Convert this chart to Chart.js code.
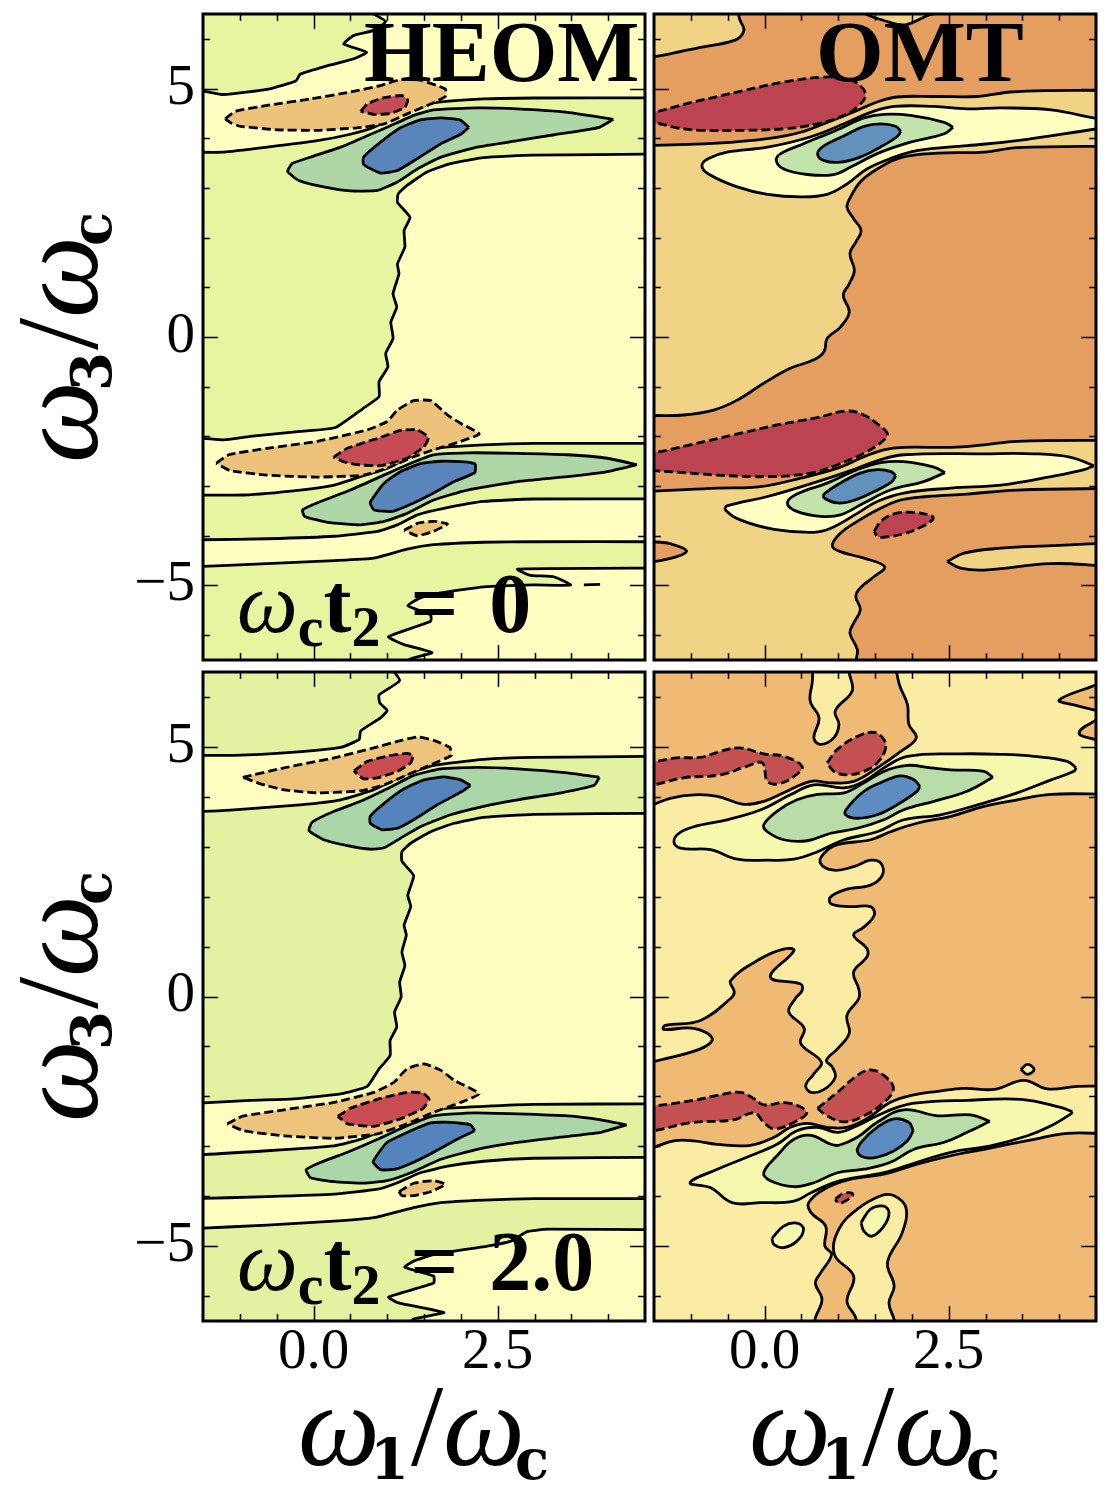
<!DOCTYPE html>
<html>
<head>
<meta charset="utf-8">
<title>HEOM OMT</title>
<script src="https://cdn.jsdelivr.net/npm/chart.js@4"></script>
<style>
html, body { margin: 0; padding: 0; background: #fff; }
body { width: 1110px; height: 1501px; position: relative; overflow: hidden; }
.box { position: absolute; }
.box canvas { display: block; }
.lab { position: absolute; white-space: nowrap; font-family: "Liberation Serif", serif; color: #000; line-height: 1; }
.lab i { font-style: italic; }
.lab b { font-weight: bold; }
.axis { font-size: 116px; }
.axis b { font-family: "DejaVu Serif", serif; font-size: 56px; position: relative; top: 14px; margin-left: -10px; }
.axis .sl { margin-left: 2px; }
.rot { transform: rotate(-90deg); transform-origin: 0 0; }
.name { font-size: 87px; font-weight: bold; }
.time { font-size: 84px; }
.time i { font-size: 86px; }
.time .s { font-weight: bold; font-size: 58px; position: relative; top: 14px; }
.time .eq { margin-left: 30px; letter-spacing: 31px; font-weight: bold; }
</style>
</head>
<body>
<div class="box" id="b0"><canvas id="c0"></canvas></div>
<div class="box" id="b1"><canvas id="c1"></canvas></div>
<div class="box" id="b2"><canvas id="c2"></canvas></div>
<div class="box" id="b3"><canvas id="c3"></canvas></div>

<div class="lab name" style="left:364px;top:8px">HEOM</div>
<div class="lab name" style="left:816px;top:8px">OMT</div>
<div class="lab time" style="left:237px;top:560px"><i>ω</i><span class="s">c</span><b>t</b><span class="s">2</span><span class="eq">=</span><b>0</b></div>
<div class="lab time" style="left:237px;top:1218px"><i>ω</i><span class="s">c</span><b>t</b><span class="s">2</span><span class="eq">=</span><b>2.0</b></div>
<div class="lab axis rot" style="left:0px;top:463px"><i>ω</i><b>3</b><span class="sl">/</span><i>ω</i><b>c</b></div>
<div class="lab axis rot" style="left:0px;top:1122px"><i>ω</i><b>3</b><span class="sl">/</span><i>ω</i><b>c</b></div>
<div class="lab axis" style="left:298px;top:1368px"><i>ω</i><b>1</b><span class="sl">/</span><i>ω</i><b>c</b></div>
<div class="lab axis" style="left:749px;top:1368px"><i>ω</i><b>1</b><span class="sl">/</span><i>ω</i><b>c</b></div>

<script>
// axis ticks
const xMajor = [0, 2.5];
const xMinor = [-1, -0.5, 0.5, 1, 1.5, 2, 3, 3.5, 4];
const yMajor = [-5, 0, 5];
const yMinor = [-6, -4, -3, -2, -1, 1, 2, 3, 4, 6];

// top left, HEOM t2 = 0
const a_limeCorner = [[0.73,7.6],[0.73,6.6],[0.98,6.35],[0.82,6.17],[0.55,6.07],[0.41,5.90],[0.72,5.73],[0.55,5.60],[0.19,5.46],[-0.18,5.29],[-0.24,5.15],[-0.61,4.99],[-1.22,4.88],[-1.49,4.95],[-1.7,4.97],[-2.5,4.97],[-2.5,7.6]];
const a_limeBig = [[-2.5,3.72],[-1.7,3.72],[-1.22,3.72],[-0.63,3.82],[0.05,3.95],[0.50,4.08],[0.82,4.22],[1.18,4.49],[1.63,4.71],[2.31,4.79],[2.99,4.81],[4.7,4.81],[5.5,4.81],[5.5,3.68],[4.7,3.68],[2.99,3.66],[2.31,3.61],[1.86,3.49],[1.54,3.32],[1.27,3.05],[1.15,2.88],[1.14,2.71],[1.31,2.41],[1.23,2.14],[1.24,1.81],[1.14,1.47],[1.16,1.27],[1.08,0.87],[1.13,0.60],[1.05,0.30],[1.08,-0.03],[0.98,-0.33],[1.01,-0.60],[0.89,-0.90],[0.89,-1.20],[0.68,-1.43],[0.30,-1.82],[-0.18,-1.90],[-0.86,-2.0],[-1.22,-2.07],[-1.49,-2.04],[-1.7,-2.04],[-2.5,-2.04]];
const a_greenUp = [[4.07,4.38],[3.45,4.52],[2.77,4.59],[2.22,4.61],[1.63,4.57],[1.36,4.46],[1.0,4.22],[0.73,4.05],[0.37,3.82],[0.0,3.64],[-0.29,3.49],[-0.35,3.33],[-0.20,3.15],[0.14,3.02],[0.50,2.94],[0.87,2.95],[1.14,3.12],[1.41,3.38],[1.73,3.62],[2.22,3.82],[2.77,3.95],[3.27,4.07],[3.88,4.22]];
const a_blueUp = [[2.11,4.22],[1.99,4.37],[1.73,4.41],[1.45,4.37],[1.18,4.21],[0.91,3.92],[0.68,3.62],[0.68,3.47],[0.91,3.30],[1.14,3.35],[1.41,3.59],[1.73,3.89],[2.0,4.08]];
const a_orangeUp = [[-1.20,4.39],[-1.06,4.54],[-0.63,4.66],[-0.04,4.79],[0.50,4.93],[0.91,5.06],[1.18,5.18],[1.45,5.17],[1.79,4.99],[1.79,4.84],[1.59,4.69],[1.27,4.49],[0.96,4.29],[0.59,4.21],[0.05,4.16],[-0.49,4.17],[-0.99,4.24],[-1.11,4.30]];
const a_redUp = [[0.64,4.54],[0.73,4.69],[0.93,4.81],[1.20,4.86],[1.28,4.77],[1.24,4.62],[1.05,4.50],[0.82,4.48]];
const a_limeBand = [[-2.5,-3.18],[-1.7,-3.18],[-0.95,-3.18],[-0.18,-3.08],[0.28,-2.98],[0.64,-2.81],[1.0,-2.64],[1.36,-2.37],[1.63,-2.24],[2.31,-2.17],[2.99,-2.14],[4.7,-2.14],[5.5,-2.14],[5.5,-3.26],[4.7,-3.26],[2.99,-3.26],[2.31,-3.31],[1.77,-3.45],[1.41,-3.58],[1.14,-3.78],[0.87,-3.91],[0.28,-4.01],[-0.63,-4.06],[-1.49,-4.08],[-1.7,-4.08],[-2.5,-4.08]];
const a_greenLow = [[4.39,-2.57],[3.99,-2.44],[3.45,-2.37],[2.77,-2.34],[2.09,-2.33],[1.63,-2.37],[1.32,-2.54],[0.91,-2.81],[0.50,-3.08],[0.05,-3.34],[-0.15,-3.48],[-0.12,-3.61],[0.19,-3.73],[0.64,-3.78],[0.96,-3.71],[1.27,-3.55],[1.63,-3.28],[2.09,-3.08],[2.77,-2.91],[3.45,-2.81],[3.99,-2.71]];
const a_blueLow = [[2.20,-2.55],[2.09,-2.52],[1.73,-2.50],[1.45,-2.55],[1.18,-2.71],[0.96,-2.94],[0.77,-3.33],[0.82,-3.48],[1.07,-3.51],[1.36,-3.34],[1.63,-3.14],[1.91,-2.91],[2.19,-2.73]];
const a_orangeLow = [[-1.32,-2.54],[-1.15,-2.37],[-0.63,-2.24],[0.05,-2.10],[0.73,-1.87],[1.0,-1.70],[1.14,-1.47],[1.36,-1.28],[1.59,-1.28],[1.82,-1.57],[2.0,-1.74],[2.25,-1.95],[2.0,-2.10],[1.63,-2.27],[1.36,-2.41],[1.0,-2.64],[0.68,-2.78],[0.05,-2.82],[-0.63,-2.78],[-1.13,-2.69]];
const a_redLow = [[0.27,-2.42],[0.46,-2.24],[0.87,-2.04],[1.18,-1.88],[1.41,-1.87],[1.56,-2.02],[1.50,-2.21],[1.27,-2.44],[0.91,-2.59],[0.59,-2.57],[0.41,-2.51]];
const a_orangeDot = [[1.23,-3.89],[1.41,-3.75],[1.63,-3.71],[1.82,-3.76],[1.63,-3.91],[1.41,-4.0]];
const a_limeBottom = [[-2.5,-4.63],[-1.7,-4.63],[-0.63,-4.56],[0.28,-4.50],[0.82,-4.45],[1.27,-4.27],[1.63,-4.18],[2.31,-4.13],[2.99,-4.12],[4.7,-4.12],[5.5,-4.12],[5.5,-4.65],[4.7,-4.65],[2.77,-4.67],[2.93,-4.79],[3.27,-4.83],[3.49,-4.99],[2.99,-4.99],[2.31,-5.03],[1.73,-5.15],[1.45,-5.25],[1.28,-5.41],[1.59,-5.59],[1.59,-5.72],[1.02,-6.03],[1.23,-6.19],[1.61,-6.35],[1.30,-6.49],[1.2,-6.7],[1.2,-7.6],[-2.5,-7.6]];
const a_dash = [[3.67,-4.99],[3.89,-4.98]];

// top right, OMT t2 = 0
const b_tanCorner = [[-0.36,7.6],[-0.36,6.7],[-0.35,6.47],[-0.33,6.37],[-0.28,6.17],[-0.39,5.98],[-0.87,5.83],[-1.28,5.70],[-1.50,5.64],[-1.7,5.62],[-2.5,5.62],[-2.5,7.6]];
const b_tanTop = [[1.3,7.6],[1.3,6.6],[1.42,6.47],[1.62,6.37],[1.80,6.29],[1.94,6.29],[2.21,6.47],[2.4,6.6],[2.4,7.6]];
const b_tanBig = [[-2.5,3.85],[-1.7,3.85],[-0.64,3.90],[0.04,3.99],[0.49,4.12],[0.85,4.32],[1.26,4.56],[1.53,4.73],[1.80,4.83],[2.30,4.84],[2.89,4.84],[3.34,4.93],[3.89,4.96],[4.7,4.96],[5.5,4.96],[5.5,3.84],[4.7,3.84],[3.43,3.81],[2.98,3.72],[2.35,3.70],[1.85,3.61],[1.53,3.38],[1.30,3.12],[1.17,2.82],[1.12,2.61],[1.21,2.38],[1.31,2.14],[1.24,1.91],[1.16,1.68],[1.22,1.34],[1.15,1.07],[1.07,0.84],[1.15,0.50],[1.03,0.20],[0.85,-0.03],[0.81,-0.29],[0.67,-0.46],[0.35,-0.63],[-0.01,-0.93],[-0.37,-1.27],[-0.69,-1.47],[-1.10,-1.57],[-1.50,-1.58],[-1.7,-1.58],[-2.5,-1.58]];
const b_paleUp = [[5.5,4.36],[4.7,4.36],[3.89,4.57],[3.21,4.61],[2.75,4.59],[2.30,4.64],[1.76,4.64],[1.44,4.52],[1.08,4.29],[0.63,4.03],[0.04,3.82],[-0.51,3.72],[-0.76,3.59],[-0.85,3.45],[-0.76,3.28],[-0.37,3.02],[0.04,2.87],[0.49,2.82],[0.85,2.87],[1.12,3.08],[1.39,3.38],[1.71,3.59],[2.07,3.75],[2.75,3.85],[3.43,3.95],[4.52,4.19],[4.7,4.22],[5.5,4.22]];
const b_greenUp = [[2.56,4.22],[2.44,4.32],[1.98,4.46],[1.62,4.48],[1.35,4.41],[0.99,4.17],[0.53,3.89],[0.22,3.69],[0.16,3.55],[0.26,3.38],[0.58,3.27],[0.94,3.27],[1.17,3.42],[1.53,3.69],[1.98,3.92],[2.44,4.09]];
const b_blueUp = [[1.85,4.14],[1.78,4.24],[1.58,4.29],[1.35,4.24],[1.08,4.05],[0.81,3.85],[0.72,3.69],[0.81,3.55],[1.03,3.52],[1.30,3.62],[1.58,3.83],[1.80,4.03]];
const b_redUp = [[-2.5,4.48],[-1.7,4.48],[-0.96,4.73],[-0.28,4.96],[0.26,5.13],[0.81,5.23],[1.12,5.19],[1.30,5.06],[1.37,4.86],[1.28,4.66],[1.08,4.46],[0.72,4.29],[0.26,4.19],[-0.28,4.16],[-0.87,4.16],[-1.19,4.21],[-1.50,4.30],[-1.7,4.2],[-2.5,4.2]];
const b_tanLow = [[-2.5,-3.11],[-1.7,-3.11],[-0.64,-3.04],[-0.05,-3.01],[0.49,-2.84],[0.99,-2.64],[1.35,-2.41],[1.62,-2.27],[1.89,-2.22],[2.53,-2.22],[2.98,-2.17],[3.43,-2.10],[4.7,-2.08],[5.5,-2.08],[5.5,-3.05],[4.7,-3.05],[3.43,-3.08],[2.75,-3.16],[2.21,-3.21],[1.85,-3.28],[1.53,-3.48],[1.26,-3.71],[1.03,-3.95],[0.92,-4.20],[1.03,-4.32],[1.35,-4.45],[1.63,-4.62],[1.49,-4.82],[1.30,-5.05],[1.24,-5.22],[1.30,-5.49],[1.21,-5.76],[1.16,-5.96],[1.26,-6.29],[1.24,-6.53],[1.24,-6.8],[1.24,-7.6],[-2.5,-7.6]];
const b_orangeSide = [[-2.5,-4.08],[-1.7,-4.08],[-1.50,-4.12],[-1.28,-4.16],[-1.06,-4.30],[-1.19,-4.42],[-1.50,-4.52],[-1.7,-4.56],[-2.5,-4.56]];
const b_tanSide = [[2.48,-4.52],[2.71,-4.35],[3.21,-4.25],[3.89,-4.20],[4.7,-4.15],[5.5,-4.15],[5.5,-4.61],[4.7,-4.61],[3.89,-4.56],[2.98,-4.69],[2.66,-4.65]];
const b_paleLow = [[4.47,-2.59],[4.16,-2.42],[3.66,-2.35],[2.98,-2.35],[1.89,-2.37],[1.53,-2.49],[1.17,-2.69],[0.72,-2.91],[0.04,-3.21],[-0.51,-3.40],[-0.53,-3.48],[-0.33,-3.68],[0.13,-3.87],[0.67,-3.93],[0.90,-3.85],[1.26,-3.55],[1.53,-3.31],[1.89,-3.14],[2.53,-3.04],[3.21,-2.98],[3.89,-2.81],[4.34,-2.67]];
const b_greenLow = [[2.45,-2.73],[2.30,-2.62],[1.89,-2.51],[1.58,-2.53],[1.26,-2.67],[0.85,-2.94],[0.44,-3.16],[0.31,-3.34],[0.44,-3.51],[0.76,-3.61],[1.03,-3.58],[1.35,-3.34],[1.71,-3.08],[2.16,-2.91]];
const b_blueLow = [[1.78,-2.79],[1.72,-2.71],[1.53,-2.67],[1.30,-2.74],[1.03,-2.94],[0.81,-3.16],[0.81,-3.24],[0.99,-3.34],[1.21,-3.29],[1.49,-3.11],[1.73,-2.91]];
const b_redLow = [[-2.5,-2.28],[-1.7,-2.28],[-1.50,-2.32],[-1.01,-2.17],[-0.42,-1.97],[0.17,-1.77],[0.72,-1.62],[1.12,-1.49],[1.35,-1.57],[1.55,-1.77],[1.67,-1.95],[1.60,-2.10],[1.35,-2.34],[0.99,-2.57],[0.63,-2.74],[0.04,-2.81],[-0.64,-2.78],[-1.10,-2.73],[-1.50,-2.69],[-1.7,-2.67],[-2.5,-2.67]];
const b_redDot = [[1.49,-3.91],[1.58,-3.71],[1.76,-3.56],[2.03,-3.53],[2.28,-3.61],[2.28,-3.68],[2.12,-3.83],[1.89,-3.96],[1.62,-4.03],[1.53,-4.01]];

// bottom left, HEOM t2 = 2.0
const c_limeCorner = [[1.0,7.6],[1.0,6.7],[1.17,6.33],[0.89,6.04],[0.90,5.88],[1.0,5.73],[0.91,5.58],[0.64,5.32],[0.62,5.15],[0.37,4.99],[-0.40,4.88],[-1.08,4.83],[-1.49,4.83],[-1.7,4.83],[-2.5,4.83],[-2.5,7.6]];
const c_limeBig = [[-2.5,3.70],[-1.7,3.70],[-1.08,3.74],[-0.18,3.84],[0.37,3.94],[0.82,4.14],[1.18,4.41],[1.63,4.63],[2.31,4.75],[2.99,4.79],[4.7,4.81],[5.5,4.81],[5.5,3.67],[4.7,3.67],[2.99,3.65],[2.31,3.59],[1.91,3.47],[1.59,3.30],[1.32,3.07],[1.20,2.90],[1.20,2.71],[1.36,2.42],[1.28,2.03],[1.32,1.80],[1.23,1.43],[1.26,1.23],[1.20,0.89],[1.24,0.62],[1.17,0.29],[1.19,-0.01],[1.10,-0.31],[1.13,-0.61],[1.04,-0.88],[1.04,-1.18],[0.89,-1.45],[0.73,-1.80],[0.37,-1.95],[-0.27,-2.05],[-0.86,-2.08],[-1.49,-2.13],[-1.7,-2.13],[-2.5,-2.13]];
const c_greenUp = [[3.88,4.39],[3.45,4.48],[2.77,4.56],[2.22,4.59],[1.73,4.56],[1.36,4.43],[1.0,4.16],[0.64,3.91],[0.28,3.71],[-0.02,3.49],[-0.06,3.32],[0.14,3.14],[0.46,3.02],[0.77,2.95],[0.96,2.98],[1.18,3.17],[1.45,3.40],[1.86,3.64],[2.31,3.81],[2.77,3.94],[3.36,4.08],[3.81,4.23]];
const c_blueUp = [[2.13,4.23],[2.0,4.34],[1.77,4.40],[1.50,4.34],[1.23,4.16],[0.96,3.87],[0.77,3.61],[0.77,3.47],[0.93,3.34],[1.14,3.37],[1.36,3.54],[1.68,3.84],[2.02,4.11]];
const c_orangeUp = [[-0.96,4.39],[-0.40,4.58],[0.28,4.78],[0.82,4.98],[1.14,5.11],[1.41,5.20],[1.63,5.13],[1.85,4.99],[1.87,4.83],[1.59,4.64],[1.27,4.44],[0.96,4.24],[0.64,4.12],[0.05,4.08],[-0.40,4.14],[-0.72,4.26]];
const c_redUp = [[0.55,4.52],[0.73,4.71],[1.05,4.83],[1.27,4.87],[1.35,4.83],[1.32,4.68],[1.14,4.51],[0.87,4.38],[0.68,4.36],[0.59,4.46]];
const c_limeBand = [[-2.5,-3.18],[-1.7,-3.18],[-0.63,-3.09],[0.28,-2.99],[0.64,-2.86],[1.0,-2.65],[1.36,-2.42],[1.73,-2.25],[2.31,-2.20],[2.99,-2.16],[4.7,-2.15],[5.5,-2.15],[5.5,-3.22],[4.7,-3.22],[2.99,-3.24],[2.31,-3.30],[1.82,-3.40],[1.45,-3.53],[1.14,-3.73],[0.87,-3.86],[0.28,-3.96],[-0.63,-4.01],[-1.7,-4.05],[-2.5,-4.05]];
const c_greenLow = [[4.25,-2.57],[3.90,-2.47],[3.45,-2.39],[2.77,-2.35],[2.18,-2.33],[1.63,-2.39],[1.27,-2.59],[0.87,-2.86],[0.46,-3.12],[0.10,-3.32],[-0.10,-3.47],[-0.04,-3.63],[0.28,-3.71],[0.68,-3.74],[1.0,-3.69],[1.32,-3.53],[1.73,-3.26],[2.22,-3.06],[2.77,-2.92],[3.45,-2.80],[3.90,-2.72]];
const c_blueLow = [[2.19,-2.69],[2.13,-2.57],[1.86,-2.52],[1.59,-2.53],[1.32,-2.69],[1.0,-2.92],[0.81,-3.31],[0.91,-3.47],[1.11,-3.46],[1.36,-3.32],[1.63,-3.12],[1.95,-2.86]];
const c_orangeLow = [[-1.17,-2.55],[-0.97,-2.40],[-0.40,-2.27],[0.28,-2.12],[0.82,-1.92],[1.09,-1.72],[1.27,-1.45],[1.50,-1.35],[1.73,-1.48],[1.91,-1.68],[2.25,-1.95],[2.0,-2.12],[1.63,-2.32],[1.27,-2.55],[0.87,-2.75],[0.28,-2.84],[-0.40,-2.79],[-0.95,-2.69]];
const c_redLow = [[0.33,-2.40],[0.50,-2.24],[0.91,-2.04],[1.27,-1.92],[1.48,-1.93],[1.57,-2.06],[1.48,-2.25],[1.18,-2.45],[0.82,-2.60],[0.46,-2.55]];
const c_orangeDot = [[1.16,-3.91],[1.36,-3.74],[1.63,-3.69],[1.79,-3.76],[1.59,-3.91],[1.36,-3.99],[1.20,-3.99]];
const c_limeBottom = [[-2.5,-4.65],[-1.7,-4.65],[-0.63,-4.58],[0.28,-4.50],[0.82,-4.43],[1.36,-4.23],[1.73,-4.13],[2.31,-4.08],[2.99,-4.05],[4.7,-4.05],[5.5,-4.05],[5.5,-4.67],[4.7,-4.67],[3.18,-4.66],[2.90,-4.71],[2.68,-4.90],[2.36,-5.0],[1.63,-5.17],[1.36,-5.30],[1.24,-5.42],[1.63,-5.60],[1.63,-5.74],[1.02,-6.02],[1.14,-6.13],[1.77,-6.33],[1.36,-6.46],[1.2,-6.7],[1.2,-7.6],[-2.5,-7.6]];

// bottom right, OMT t2 = 2.0
const d_orangeCorner = [[1.78,7.6],[1.78,6.7],[1.83,6.25],[1.94,5.85],[1.96,5.45],[2.06,5.18],[1.85,4.91],[1.53,4.58],[1.21,4.31],[0.90,4.28],[0.63,4.31],[0.26,4.08],[-0.01,3.91],[-0.28,3.85],[-0.64,4.01],[-0.96,4.04],[-1.28,3.97],[-1.50,3.85],[-1.7,3.75],[-2.5,3.75],[-2.5,7.6]];
const d_creamFinger = [[0.65,7.6],[0.65,6.7],[0.65,6.32],[0.62,5.92],[0.74,5.58],[0.67,5.18],[0.76,5.05],[0.94,5.18],[1.01,5.45],[0.96,5.72],[1.19,6.12],[1.15,6.49],[1.15,6.7],[1.15,7.6]];
const d_orangeTongue = [[5.5,6.35],[4.7,6.35],[4.52,6.25],[4.0,5.94],[4.20,5.84],[4.52,5.72],[4.7,5.6],[5.5,5.6]];
const d_orangeNotch = [[5.5,5.65],[4.7,5.65],[4.52,5.55],[4.27,5.28],[4.52,5.13],[4.7,5.05],[5.5,5.05]];
const d_orangeMain = [[5.5,4.05],[4.7,4.05],[3.89,4.05],[3.43,3.94],[2.98,3.81],[2.53,3.61],[2.07,3.47],[1.71,3.30],[1.44,3.14],[0.99,3.04],[0.81,2.87],[0.76,2.67],[0.94,2.53],[1.21,2.60],[1.44,2.73],[1.58,2.67],[1.60,2.43],[1.44,2.23],[1.12,2.15],[0.90,2.0],[0.90,1.86],[1.17,1.80],[1.44,1.80],[1.49,1.63],[1.35,1.39],[1.21,1.23],[1.39,0.96],[1.39,0.79],[1.21,0.49],[1.28,0.15],[1.28,-0.04],[1.12,-0.38],[1.15,-0.74],[0.99,-1.05],[0.84,-1.28],[0.92,-1.41],[0.96,-1.62],[0.81,-1.86],[0.63,-1.92],[0.56,-1.78],[0.67,-1.55],[0.77,-1.31],[0.49,-0.94],[0.54,-0.64],[0.33,-0.31],[0.42,-0.04],[0.51,0.12],[0.49,0.25],[0.08,0.39],[0.40,0.92],[0.26,0.95],[-0.05,0.76],[-0.46,0.32],[-0.41,0.09],[-0.46,-0.04],[-0.87,-0.48],[-1.35,-0.58],[-1.37,-0.66],[-0.96,-0.64],[-0.71,-0.84],[-0.87,-1.05],[-1.50,-1.30],[-1.7,-1.38],[-2.5,-1.38],[-2.5,-3.1],[-1.7,-3.1],[-1.50,-3.02],[-1.23,-2.89],[-0.96,-2.89],[-0.64,-2.96],[-0.19,-2.98],[0.13,-2.82],[0.35,-2.62],[0.58,-2.54],[0.85,-2.62],[1.12,-2.62],[1.39,-2.45],[1.71,-2.12],[2.03,-1.97],[2.35,-1.90],[2.71,-1.84],[3.12,-1.86],[3.52,-1.68],[3.84,-1.85],[4.25,-1.80],[4.7,-1.80],[5.5,-1.80]];
const d_ring = [[3.48,-1.46],[3.57,-1.36],[3.66,-1.46],[3.57,-1.56]];
const d_orangeLow = [[5.5,-2.75],[4.7,-2.75],[4.11,-2.74],[3.66,-2.86],[2.98,-3.06],[2.53,-3.19],[2.07,-3.36],[1.62,-3.56],[1.17,-3.66],[0.81,-3.86],[0.60,-4.13],[0.63,-4.33],[0.83,-4.60],[0.82,-5.0],[0.91,-5.17],[0.76,-5.54],[0.69,-5.74],[0.78,-6.07],[0.69,-6.44],[0.65,-6.8],[0.65,-7.6],[1.25,-7.6],[1.25,-6.8],[1.24,-6.44],[1.12,-6.11],[1.21,-5.60],[0.95,-5.17],[1.01,-4.66],[1.26,-4.26],[1.58,-3.99],[1.76,-3.99],[1.92,-4.23],[1.87,-4.73],[1.67,-5.33],[1.76,-5.80],[1.69,-6.14],[1.76,-6.47],[1.8,-6.8],[1.8,-7.6],[5.5,-7.6]];
const d_islandLeft = [[0.10,-4.85],[0.26,-4.60],[0.44,-4.54],[0.53,-4.66],[0.44,-4.90],[0.26,-5.03],[0.13,-4.97]];
const d_islandRight = [[1.31,-4.53],[1.44,-4.26],[1.62,-4.20],[1.69,-4.33],[1.62,-4.60],[1.46,-4.80],[1.35,-4.70]];
const d_paleUp = [[4.23,4.58],[4.11,4.71],[3.66,4.81],[3.21,4.85],[2.66,4.86],[1.94,4.81],[1.62,4.58],[1.35,4.31],[1.08,4.18],[0.67,4.24],[0.35,4.04],[-0.05,3.74],[-0.51,3.54],[-0.96,3.40],[-1.16,3.27],[-1.23,3.10],[-1.14,2.97],[-0.73,2.94],[-0.37,2.75],[0.04,2.73],[0.40,2.75],[0.72,2.90],[1.08,3.14],[1.53,3.30],[1.89,3.54],[2.39,3.64],[2.89,3.84],[3.43,4.08],[3.89,4.34],[4.20,4.51]];
const d_greenUp = [[3.10,4.39],[2.98,4.51],[2.53,4.54],[2.26,4.58],[1.94,4.63],[1.62,4.51],[1.35,4.28],[1.08,4.08],[0.72,4.05],[0.44,3.94],[0.17,3.71],[-0.01,3.44],[0.04,3.30],[0.26,3.14],[0.58,3.12],[0.90,3.27],[1.26,3.37],[1.62,3.54],[1.89,3.74],[2.30,3.91],[2.75,4.11]];
const d_blueUp = [[2.11,4.21],[2.03,4.34],[1.85,4.42],[1.62,4.31],[1.35,4.11],[1.12,3.77],[1.10,3.64],[1.26,3.57],[1.53,3.64],[1.80,3.84],[2.07,4.11]];
const d_redWest = [[-2.5,4.66],[-1.7,4.66],[-1.50,4.70],[-1.19,4.78],[-0.87,4.79],[-0.60,4.91],[-0.33,4.98],[-0.01,4.86],[0.26,4.81],[0.51,4.61],[0.40,4.41],[0.19,4.26],[0.04,4.31],[-0.03,4.68],[-0.24,4.61],[-0.60,4.44],[-1.10,4.38],[-1.50,4.24],[-1.7,4.2],[-2.5,4.2]];
const d_redEast = [[0.85,4.68],[0.99,4.95],[1.26,5.21],[1.49,5.29],[1.62,5.15],[1.64,4.95],[1.53,4.68],[1.35,4.51],[1.12,4.44],[0.94,4.51]];
const d_paleLow = [[4.18,-2.31],[4.02,-2.22],[3.48,-2.06],[2.75,-2.08],[2.07,-2.13],[1.80,-2.22],[1.53,-2.39],[1.21,-2.62],[0.99,-2.72],[0.72,-2.62],[0.44,-2.69],[0.17,-2.96],[-0.19,-3.19],[-0.64,-3.46],[-1.01,-3.73],[-0.73,-3.83],[-0.44,-4.13],[-0.05,-4.13],[0.40,-4.10],[0.63,-3.93],[1.03,-3.69],[1.62,-3.53],[2.07,-3.32],[2.53,-3.12],[3.07,-2.99],[3.57,-2.79],[3.89,-2.59],[4.16,-2.35]];
const d_greenLow = [[3.06,-2.50],[2.80,-2.37],[2.35,-2.39],[1.89,-2.27],[1.53,-2.52],[1.26,-2.82],[1.01,-2.98],[0.90,-2.96],[0.63,-2.78],[0.40,-2.86],[0.17,-3.19],[-0.01,-3.53],[0.08,-3.69],[0.40,-3.81],[0.67,-3.73],[0.99,-3.53],[1.35,-3.46],[1.71,-3.32],[2.03,-3.06],[2.44,-2.92],[2.75,-2.72]];
const d_blueLow = [[2.02,-2.69],[1.96,-2.52],[1.76,-2.45],[1.53,-2.62],[1.33,-2.89],[1.26,-3.09],[1.35,-3.22],[1.53,-3.22],[1.76,-3.09],[1.94,-2.89]];
const d_redLowWest = [[-2.5,-2.2],[-1.7,-2.2],[-1.50,-2.19],[-0.96,-2.08],[-0.64,-1.98],[-0.33,-1.92],[-0.14,-2.05],[-0.01,-2.17],[0.31,-2.13],[0.57,-2.31],[0.44,-2.49],[0.13,-2.65],[-0.01,-2.52],[-0.14,-2.33],[-0.42,-2.47],[-1.01,-2.53],[-1.50,-2.69],[-1.7,-2.72],[-2.5,-2.72]];
const d_redLowEast = [[0.72,-2.24],[0.99,-1.92],[1.26,-1.58],[1.44,-1.47],[1.62,-1.58],[1.75,-1.84],[1.62,-2.12],[1.35,-2.39],[1.08,-2.51],[0.85,-2.39]];
const d_redDot = [[0.96,-4.06],[1.08,-3.94],[1.20,-3.96],[1.12,-4.08],[1.01,-4.14]];

const palettes = [
  { base: '#feffc0', lime: '#e8f5a0', green: '#aed6a6', blue: '#5a85ba', orange: '#edc37b', red: '#c54b56' },
  { base: '#e49e5f', tan: '#f1d385', pale: '#feffc0', green: '#c2e3aa', blue: '#6092bb', red: '#bb4450' },
  { base: '#fdfdbf', lime: '#e2f2a1', green: '#abd6a7', blue: '#5584bd', orange: '#eec47c', red: '#c94c50' },
  { base: '#faeca2', orange: '#eeba74', pale: '#f5f9ad', green: '#b8dda8', blue: '#5c8cc0', red: '#c35151' }
];

// bottom layer first: [points, colour name, dashed]
const layers = [
  [[a_limeCorner,'lime'],[a_limeBig,'lime'],[a_limeBand,'lime'],[a_limeBottom,'lime'],[a_greenUp,'green'],[a_blueUp,'blue'],[a_orangeUp,'orange',1],[a_redUp,'red',1],[a_greenLow,'green'],[a_blueLow,'blue'],[a_orangeLow,'orange',1],[a_redLow,'red',1],[a_orangeDot,'orange',1]],
  [[b_tanCorner,'tan'],[b_tanTop,'tan'],[b_tanBig,'tan'],[b_tanLow,'tan'],[b_orangeSide,'base'],[b_tanSide,'tan'],[b_paleUp,'pale'],[b_greenUp,'green'],[b_blueUp,'blue'],[b_redUp,'red',1],[b_paleLow,'pale'],[b_greenLow,'green'],[b_blueLow,'blue'],[b_redLow,'red',1],[b_redDot,'red',1]],
  [[c_limeCorner,'lime'],[c_limeBig,'lime'],[c_limeBand,'lime'],[c_limeBottom,'lime'],[c_greenUp,'green'],[c_blueUp,'blue'],[c_orangeUp,'orange',1],[c_redUp,'red',1],[c_greenLow,'green'],[c_blueLow,'blue'],[c_orangeLow,'orange',1],[c_redLow,'red',1],[c_orangeDot,'orange',1]],
  [[d_orangeCorner,'orange'],[d_creamFinger,'base'],[d_orangeTongue,'orange'],[d_orangeNotch,'orange'],[d_orangeMain,'orange'],[d_ring,'base'],[d_orangeLow,'orange'],[d_islandLeft,'pale'],[d_islandRight,'pale'],[d_paleUp,'pale'],[d_greenUp,'green'],[d_blueUp,'blue'],[d_redWest,'red',1],[d_redEast,'red',1],[d_paleLow,'pale'],[d_greenLow,'green'],[d_blueLow,'blue'],[d_redLowWest,'red',1],[d_redLowEast,'red',1],[d_redDot,'red',1]]
];

// position of each plot on the page
const panels = [
  { id: 0, left: 203, top: 14, bend: 0.15, yLabels: true, xLabels: false },
  { id: 1, left: 654, top: 14, bend: 0.4, yLabels: false, xLabels: false },
  { id: 2, left: 203, top: 672, bend: 0.15, yLabels: true, xLabels: true },
  { id: 3, left: 654, top: 672, bend: 0.4, yLabels: false, xLabels: true }
];
const plotW = 442, plotH = 646, gutterY = 110, gutterX = 70, pad = 3;

function plotBase(chart) {
  const a = chart.chartArea;
  chart.ctx.save();
  chart.ctx.fillStyle = chart.options.plugins.plotBase.color;
  chart.ctx.fillRect(a.left, a.top, a.right - a.left, a.bottom - a.top);
  chart.ctx.restore();
}

function insideTicks(chart) {
  const ctx = chart.ctx, a = chart.chartArea, sx = chart.scales.x, sy = chart.scales.y;
  ctx.save();
  ctx.strokeStyle = '#000';
  ctx.lineWidth = 1.5;
  const mark = (vals, len) => {
    ctx.beginPath();
    vals.x.forEach(v => {
      const p = Math.round(sx.getPixelForValue(v)) + 0.5;
      ctx.moveTo(p, a.top); ctx.lineTo(p, a.top + len);
      ctx.moveTo(p, a.bottom); ctx.lineTo(p, a.bottom - len);
    });
    vals.y.forEach(v => {
      const p = Math.round(sy.getPixelForValue(v)) + 0.5;
      ctx.moveTo(a.left, p); ctx.lineTo(a.left + len, p);
      ctx.moveTo(a.right, p); ctx.lineTo(a.right - len, p);
    });
    ctx.stroke();
  };
  mark({ x: xMajor, y: yMajor }, 15);
  mark({ x: xMinor, y: yMinor }, 7);
  ctx.lineWidth = 3;
  ctx.strokeRect(a.left, a.top, a.right - a.left, a.bottom - a.top);
  ctx.restore();
}

panels.forEach(p => {
  const box = document.getElementById('b' + p.id);
  const canvas = document.getElementById('c' + p.id);
  const gx = p.yLabels ? gutterY : 0;
  const gy = p.xLabels ? gutterX : 0;
  const w = gx + plotW + pad * 2, h = plotH + gy + pad * 2;
  box.style.left = (p.left - gx - pad) + 'px';
  box.style.top = (p.top - pad) + 'px';
  canvas.width = w;
  canvas.height = h;
  const colours = palettes[p.id];
  const sets = layers[p.id].map(l => ({
    data: l[0].concat([l[0][0]]).map(v => ({ x: v[0], y: v[1] })),
    backgroundColor: colours[l[1]],
    borderColor: '#000',
    borderWidth: 2.8,
    borderDash: l[2] ? [9, 4] : [],
    fill: 'shape',
    tension: p.bend,
    capBezierPoints: false,
    pointRadius: 0,
    clip: 0
  }));
  if (p.id === 0) {
    sets.push({ data: a_dash.map(v => ({ x: v[0], y: v[1] })), borderColor: '#000', borderWidth: 2.8, pointRadius: 0, fill: false, clip: 0 });
  }
  new Chart(canvas, {
    type: 'scatter',
    data: { datasets: sets.reverse().map(s => Object.assign({ showLine: true }, s)) },
    options: {
      responsive: false,
      devicePixelRatio: 1,
      animation: false,
      events: [],
      layout: { padding: { left: pad, right: pad, top: pad, bottom: p.xLabels ? 0 : pad } },
      plugins: { legend: { display: false }, tooltip: { enabled: false }, plotBase: { color: colours.base } },
      scales: {
        x: {
          type: 'linear', min: -1.5, max: 4.5,
          grid: { display: false }, border: { display: false },
          afterBuildTicks: s => { s.ticks = xMajor.map(v => ({ value: v })); },
          afterFit: s => { s.height = gy; s.paddingLeft = 0; s.paddingRight = 0; },
          ticks: {
            display: p.xLabels, autoSkip: false, maxRotation: 0, padding: -10, color: '#000',
            font: { family: '"Liberation Serif"', size: 57 },
            callback: v => v.toFixed(1)
          }
        },
        y: {
          type: 'linear', min: -6.5, max: 6.5,
          grid: { display: false }, border: { display: false },
          afterBuildTicks: s => { s.ticks = yMajor.map(v => ({ value: v })); },
          afterFit: s => { s.width = gx; s.paddingTop = 0; s.paddingBottom = 0; },
          ticks: {
            display: p.yLabels, autoSkip: false, padding: 0, color: '#000',
            font: { family: '"Liberation Serif"', size: 57 },
            callback: v => String(v).replace('-', '\u2212')
          }
        }
      }
    },
    plugins: [
      { id: 'plotBase', beforeDatasetsDraw: plotBase },
      { id: 'insideTicks', afterDatasetsDraw: insideTicks }
    ]
  });
});
</script>
</body>
</html>
